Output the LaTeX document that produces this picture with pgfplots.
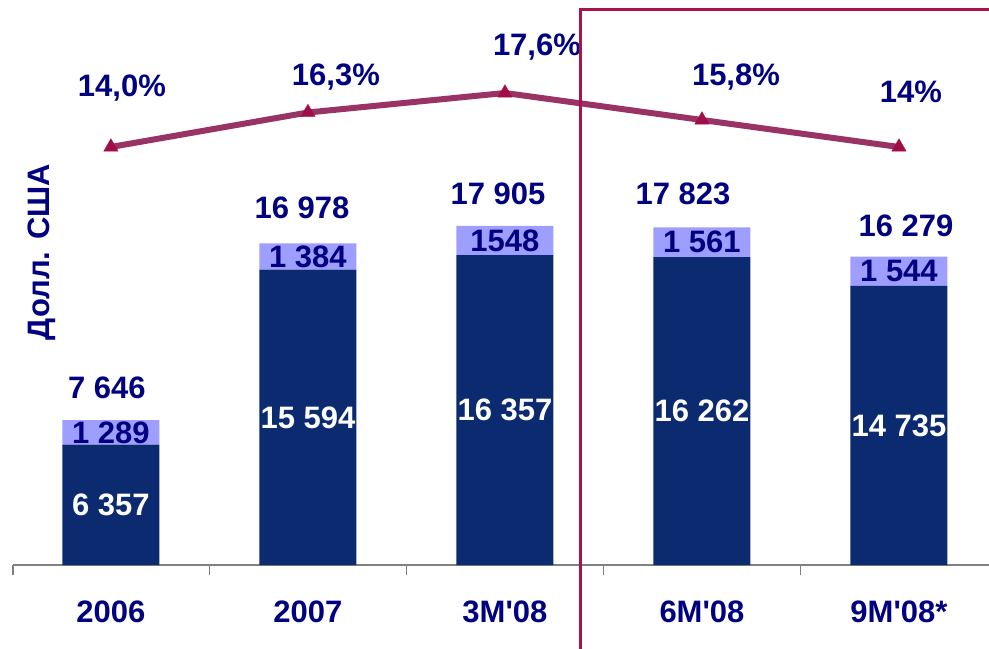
\documentclass[border=0pt]{standalone}
\usepackage{fontspec}
\setmainfont{Liberation Sans}
\usepackage{pgfplots}
\pgfplotsset{compat=1.18}

\definecolor{navybar}{HTML}{0B2A6F}
\definecolor{lightbar}{HTML}{9E9EFF}
\definecolor{labelnavy}{HTML}{000080}
\definecolor{linecol}{HTML}{993366}
\definecolor{markcol}{HTML}{A00D47}
\definecolor{framecol}{HTML}{A8124E}
\definecolor{axisgray}{HTML}{808080}

\begin{document}
\begin{tikzpicture}[font=\fontsize{15.5pt}{18pt}\selectfont\bfseries]
\useasboundingbox (0,0) rectangle (494.5pt,324pt);

% Stacked bars (USD)
\begin{axis}[
  at={(6.5pt,41.5pt)}, anchor=south west,
  scale only axis, width=488pt, height=282.5pt,
  xmin=-0.497, xmax=4.457, ymin=0, ymax=29832,
  ybar stacked, bar width=48.5pt,
  axis x line*=bottom, axis y line=none,
  x axis line style={draw=axisgray, line width=0.8pt},
  xtick={0,1,2,3,4},
  xticklabels={2006,2007,3M\textquotesingle08,6M\textquotesingle08,9M\textquotesingle08*},
  major tick length=0pt,
  minor xtick={-0.497,0.5,1.5,2.5,3.5},
  minor tick length=5pt, tick align=outside,
  minor tick style={draw=axisgray, line width=0.8pt},
  xticklabel style={text=labelnavy, anchor=center, yshift=-23.5pt,
    font=\fontsize{15.5pt}{18pt}\selectfont\bfseries},
  clip=false,
  nodes near coords,
  point meta=explicit symbolic,
  every node near coord/.append style={anchor=center,
    font=\fontsize{15.5pt}{18pt}\selectfont\bfseries},
]
\addplot[fill=navybar, draw=none,
  every node near coord/.append style={text=white}]
  coordinates {(0,6357)[6 357] (1,15594)[15 594] (2,16357)[16 357]
               (3,16262)[16 262] (4,14735)[14 735]};
\addplot[fill=lightbar, draw=none,
  every node near coord/.append style={text=labelnavy}]
  coordinates {(0,1289)[1 289] (1,1384)[1 384] (2,1548)[1548]
               (3,1561)[1 561] (4,1544)[1 544]};

% totals above the bars
\node[text=labelnavy, xshift=-2pt,  yshift=16pt] at (axis cs:0,7646)  {7 646};
\node[text=labelnavy, xshift=-3pt,  yshift=18pt] at (axis cs:1,16978) {16 978};
\node[text=labelnavy, xshift=-3.5pt,yshift=16pt] at (axis cs:2,17905) {17 905};
\node[text=labelnavy, xshift=-9.5pt,yshift=17pt] at (axis cs:3,17823) {17 823};
\node[text=labelnavy, xshift=3.5pt, yshift=15.5pt] at (axis cs:4,16279) {16 279};
\end{axis}

% Percentage line
\begin{axis}[
  at={(6.5pt,41.5pt)}, anchor=south west,
  scale only axis, width=488pt, height=282.5pt,
  xmin=-0.497, xmax=4.457, ymin=-13.867, ymax=23.8,
  hide axis, clip=false,
]
\addplot[linecol, line width=3pt, mark=triangle*, mark size=4.2pt,
  mark options={fill=markcol, draw=markcol, line width=0.1pt}]
  coordinates {(0,14.0) (1,16.3) (2,17.6) (3,15.8) (4,14.0)};

\node[text=labelnavy, xshift=5.5pt, yshift=29.5pt] at (axis cs:0,14.0) {14,0\%};
\node[text=labelnavy, xshift=14pt,  yshift=17.5pt] at (axis cs:1,16.3) {16,3\%};
\node[text=labelnavy, xshift=16pt,  yshift=23pt]   at (axis cs:2,17.6) {17,6\%};
\node[text=labelnavy, xshift=17pt,  yshift=21.5pt] at (axis cs:3,15.8) {15,8\%};
\node[text=labelnavy, xshift=6pt,   yshift=27.5pt] at (axis cs:4,14.0) {14\%};

% frame around the 2008 interim periods
\draw[framecol, line width=1.5pt]
  (axis cs:2.381,-19.6) -- (axis cs:2.381,23.133) -- (axis cs:4.6,23.133);
\end{axis}

\node[rotate=90, text=labelnavy] at (21pt,198pt) {Долл. США};
\end{tikzpicture}
\end{document}
